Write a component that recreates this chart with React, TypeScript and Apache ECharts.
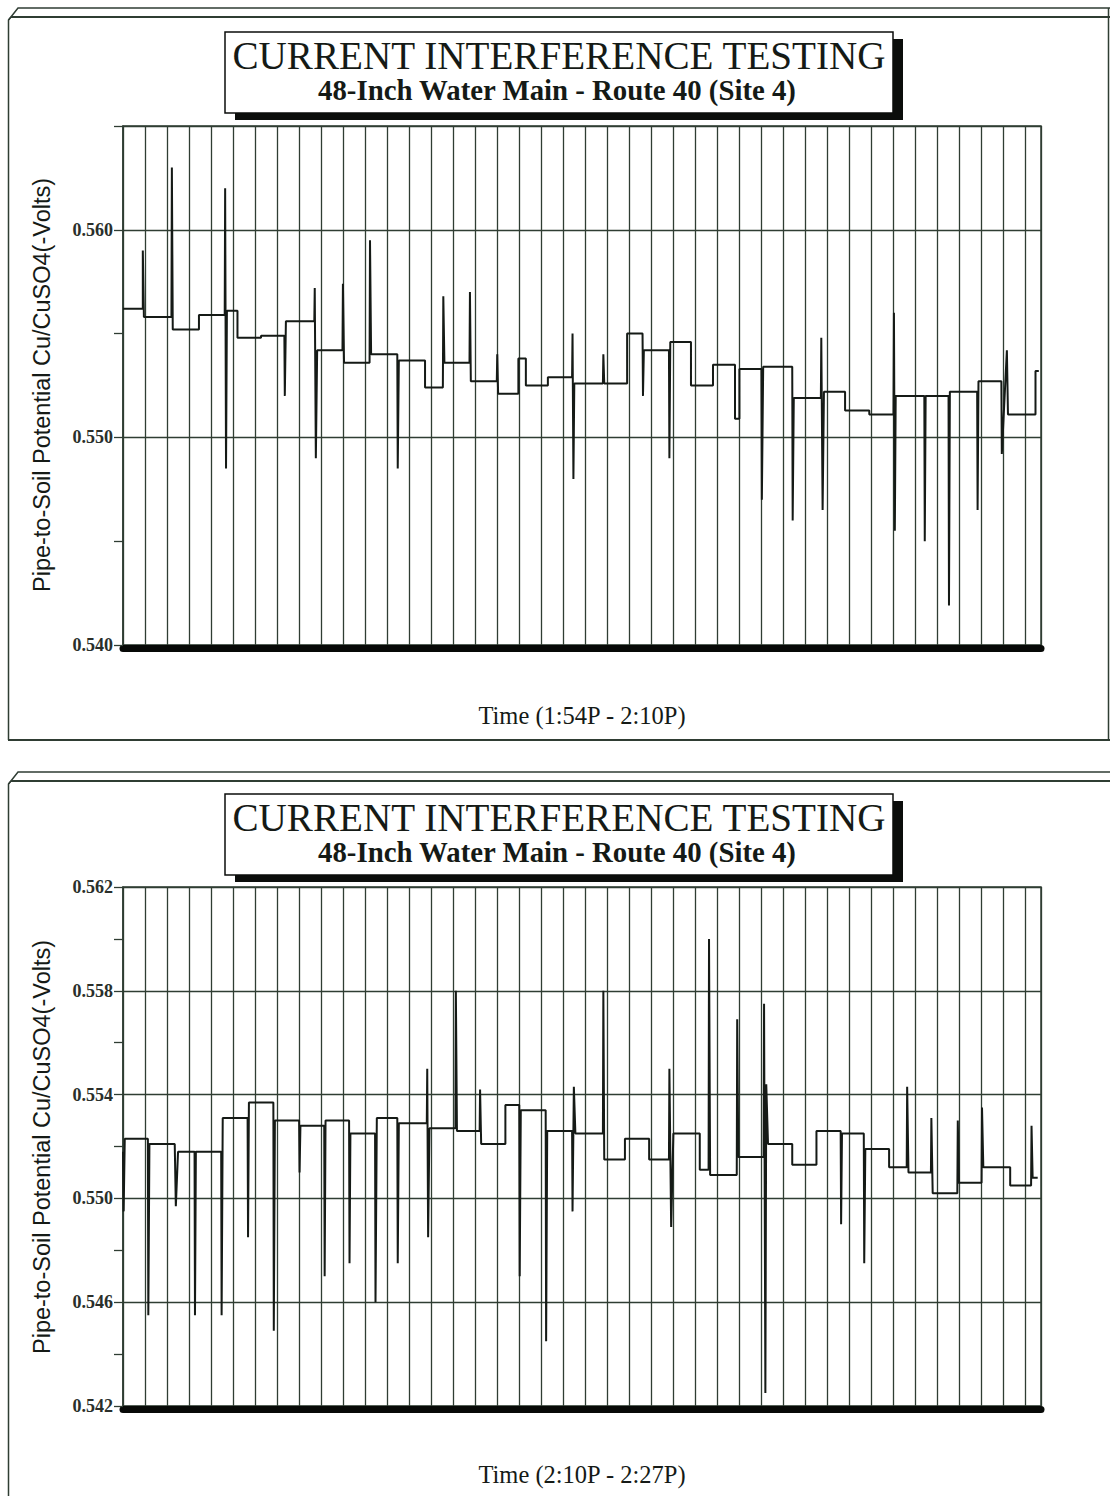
import React, { useEffect, useRef } from "react";
import * as echarts from "echarts";

// ---- Data (time in grid divisions, potential in -Volts) ----
const topTime = [
  0, 0.9, 0.9, 0.95, 2.2, 2.22, 2.26, 3.45, 3.45, 4.62, 4.64, 4.68, 4.72, 5.2, 5.2, 6.27, 6.27, 7.33, 7.35, 7.4,
  8.69, 8.71, 8.76, 8.82, 9.97, 9.99, 10.04, 11.2, 11.22, 11.27, 12.46, 12.48, 12.53, 13.72, 13.72, 14.53, 14.55, 14.6,
  15.74, 15.76, 15.8, 16.98, 17.0, 17.04, 17.96, 17.96, 18.3, 18.3, 19.3, 19.3, 20.4, 20.42, 20.46, 20.5, 21.8, 21.82,
  21.86, 22.9, 22.9, 23.6, 23.62, 23.66, 24.8, 24.82, 24.86, 25.8, 25.8, 26.8, 26.8, 27.8, 27.8, 28.0, 28.0, 29.0,
  29.02, 29.08, 30.4, 30.42, 30.47, 31.7, 31.72, 31.78, 31.84, 32.8, 32.8, 33.9, 33.9, 35.0, 35.02, 35.06, 35.1, 36.4,
  36.42, 36.46, 37.5, 37.52, 37.56, 38.8, 38.82, 38.86, 39.9, 39.92, 40.15, 40.2, 41.45, 41.45, 41.6,
];
const topVolts = [
  0.5562, 0.5562, 0.559, 0.5558, 0.5558, 0.563, 0.5552, 0.5552, 0.5559, 0.5559, 0.562, 0.5485, 0.5561, 0.5561, 0.5548,
  0.5548, 0.5549, 0.5549, 0.552, 0.5556, 0.5556, 0.5572, 0.549, 0.5542, 0.5542, 0.5574, 0.5536, 0.5536, 0.5595, 0.554,
  0.554, 0.5485, 0.5537, 0.5537, 0.5524, 0.5524, 0.5568, 0.5536, 0.5536, 0.557, 0.5527, 0.5527, 0.554, 0.5521, 0.5521,
  0.5538, 0.5538, 0.5525, 0.5525, 0.5529, 0.5529, 0.555, 0.548, 0.5526, 0.5526, 0.554, 0.5526, 0.5526, 0.555, 0.555,
  0.552, 0.5542, 0.5542, 0.549, 0.5546, 0.5546, 0.5525, 0.5525, 0.5535, 0.5535, 0.5509, 0.5509, 0.5533, 0.5533, 0.547,
  0.5534, 0.5534, 0.546, 0.5519, 0.5519, 0.5548, 0.5465, 0.5522, 0.5522, 0.5513, 0.5513, 0.5511, 0.5511, 0.556, 0.5455,
  0.552, 0.552, 0.545, 0.552, 0.552, 0.5419, 0.5522, 0.5522, 0.5465, 0.5527, 0.5527, 0.5492, 0.5542, 0.5511, 0.5511,
  0.5532, 0.5532,
];

const bottomTime = [
  0, 0.03, 0.08, 1.13, 1.15, 1.2, 2.35, 2.4, 2.5, 3.25, 3.27, 3.31, 4.46, 4.48, 4.53, 5.66, 5.68, 5.72, 6.83, 6.85, 6.9,
  8.0, 8.02, 8.06, 9.14, 9.16, 9.2, 10.27, 10.29, 10.33, 11.45, 11.47, 11.53, 12.46, 12.48, 12.53, 13.8, 13.82, 13.86,
  13.92, 15.1, 15.12, 15.17, 16.2, 16.22, 16.27, 17.37, 17.37, 18.0, 18.02, 18.07, 19.2, 19.22, 19.27, 20.4, 20.42,
  20.48, 20.55, 21.8, 21.82, 21.86, 22.8, 22.8, 23.9, 23.9, 24.8, 24.82, 24.9, 25.0, 26.2, 26.2, 26.6, 26.62, 26.67,
  27.88, 27.9, 27.95, 29.1, 29.12, 29.18, 29.22, 29.3, 30.4, 30.4, 31.5, 31.5, 32.6, 32.62, 32.66, 33.65, 33.67, 33.72,
  34.8, 34.8, 35.6, 35.62, 35.68, 36.7, 36.72, 36.78, 37.9, 37.92, 37.97, 39.0, 39.02, 39.08, 40.3, 40.3, 41.25, 41.27,
  41.32, 41.55,
];
const bottomVolts = [
  0.5518, 0.5495, 0.5523, 0.5523, 0.5455, 0.5521, 0.5521, 0.5497, 0.5518, 0.5518, 0.5455, 0.5518, 0.5518, 0.5455,
  0.5531, 0.5531, 0.5485, 0.5537, 0.5537, 0.5449, 0.553, 0.553, 0.551, 0.5528, 0.5528, 0.547, 0.553, 0.553, 0.5475,
  0.5525, 0.5525, 0.546, 0.5531, 0.5531, 0.5475, 0.5529, 0.5529, 0.555, 0.5485, 0.5527, 0.5527, 0.558, 0.5526, 0.5526,
  0.5542, 0.5521, 0.5521, 0.5536, 0.5536, 0.547, 0.5534, 0.5534, 0.5445, 0.5526, 0.5526, 0.5495, 0.5543, 0.5525,
  0.5525, 0.558, 0.5515, 0.5515, 0.5523, 0.5523, 0.5515, 0.5515, 0.555, 0.5489, 0.5525, 0.5525, 0.5511, 0.5511, 0.56,
  0.5509, 0.5509, 0.5569, 0.5516, 0.5516, 0.5575, 0.5425, 0.5544, 0.5521, 0.5521, 0.5513, 0.5513, 0.5526, 0.5526,
  0.549, 0.5525, 0.5525, 0.5475, 0.5519, 0.5519, 0.5512, 0.5512, 0.5543, 0.551, 0.551, 0.5531, 0.5502, 0.5502, 0.553,
  0.5506, 0.5506, 0.5535, 0.5512, 0.5512, 0.5505, 0.5505, 0.5528, 0.5508, 0.5508,
];

const TITLE = "CURRENT INTERFERENCE TESTING";
const SUBTITLE = "48-Inch Water Main - Route 40 (Site 4)";
const Y_NAME = "Pipe-to-Soil Potential Cu/CuSO4(-Volts)";
const X_NAMES = ["Time (1:54P - 2:10P)", "Time (2:10P - 2:27P)"];
const Y_RANGES = [
  { min: 0.54, max: 0.565, interval: 0.01 },
  { min: 0.542, max: 0.562, interval: 0.004 },
];
const X_MAX = 41.7;

const SERIF = "'Liberation Serif', 'Times New Roman', serif";
const SANS = "'Liberation Sans', Arial, sans-serif";
const GRID_COLOR = "#2f3d33";
const INK = "#151a16";

function zip(a: number[], b: number[]) {
  return a.map((t, i) => [t, b[i]]);
}

function panelGraphics(offsetY: number, idx: number) {
  const els: any[] = [];
  const line = (x1: number, y1: number, x2: number, y2: number, w = 1.5) => ({
    type: "line",
    shape: { x1, y1, x2, y2 },
    style: { stroke: GRID_COLOR, lineWidth: w },
    silent: true,
  });
  const top = idx === 0 ? 8 : 772;
  const top2 = idx === 0 ? 17 : 781;
  const bottom = idx === 0 ? 740 : 1500;
  els.push({
    type: "polyline",
    shape: { points: [[8.5, bottom], [8.5, top + 12], [18, top], [1110, top]] },
    style: { stroke: GRID_COLOR, lineWidth: 1.5, fill: null },
    silent: true,
  });
  els.push(line(11, top2, 1110, top2, 1.8));
  els.push(line(8.5, top + 12, 11, top2, 1.2));
  if (idx === 0) {
    els.push(line(8, bottom, 1110, bottom, 1.8));
    els.push(line(1108.5, top, 1108.5, bottom, 1.5));
  }
  // title box with drop shadow
  const bx = 225;
  const by = 32 + offsetY;
  const bw = 668;
  const bh = 81;
  els.push({ type: "rect", shape: { x: bx + 10, y: by + 7, width: bw, height: bh }, style: { fill: "#0b0d0b" }, silent: true });
  els.push({
    type: "rect",
    shape: { x: bx, y: by, width: bw, height: bh },
    style: { fill: "#ffffff", stroke: "#0b0d0b", lineWidth: 1.5 },
    silent: true,
  });
  const txt = (text: string, x: number, y: number, font: any, rotation = 0, scaleX = 1) => ({
    type: "text",
    x,
    y,
    rotation,
    scaleX,
    silent: true,
    style: {
      text,
      fill: INK,
      ...font,
      align: "center",
      verticalAlign: "middle",
      textAlign: "center",
      textVerticalAlign: "middle",
    },
  });
  els.push(txt(TITLE, 559, 55 + offsetY, { fontSize: 41, fontFamily: SERIF }, 0, 0.955));
  els.push(txt(SUBTITLE, 557, 90 + offsetY, { fontSize: 30, fontWeight: "bold", fontFamily: SERIF }, 0, 0.96));
  els.push(txt(Y_NAME, 42, 385 + offsetY, { fontSize: 23.5, fontFamily: SANS }, Math.PI / 2));
  els.push(txt(X_NAMES[idx], 582, 715 + (idx === 0 ? 0 : 759), { fontSize: 25, fontFamily: SERIF }, 0, 0.98));
  return els;
}

function makeYAxis(i: number) {
  const r = Y_RANGES[i];
  return {
    type: "value",
    gridIndex: i,
    min: r.min,
    max: r.max,
    interval: r.interval,
    scale: true,
    axisLine: { show: true, lineStyle: { color: GRID_COLOR, width: 1.5 } },
    axisTick: { show: true, length: 9, lineStyle: { color: GRID_COLOR, width: 1.3 } },
    minorTick: { show: true, splitNumber: 2, length: 9, lineStyle: { color: GRID_COLOR, width: 1.3 } },
    splitLine: { show: true, lineStyle: { color: GRID_COLOR, width: 1.3 } },
    axisLabel: {
      margin: 10,
      fontSize: 18,
      fontWeight: "bold",
      fontFamily: SERIF,
      color: "#2a2f2b",
      showMaxLabel: i === 1,
      formatter: (v: number) => v.toFixed(3),
    },
  };
}

function makeXAxis(i: number) {
  return {
    type: "value",
    gridIndex: i,
    min: 0,
    max: X_MAX,
    interval: 1,
    offset: 3,
    axisLine: { show: true, onZero: false, lineStyle: { color: "#070907", width: 7 } },
    axisTick: { show: false },
    axisLabel: { show: false },
    splitLine: { show: true, lineStyle: { color: GRID_COLOR, width: 1.3 } },
  };
}

export default function App() {
  const ref = useRef<HTMLDivElement>(null);
  useEffect(() => {
    if (!ref.current) return;
    const chart = echarts.init(ref.current, undefined, { renderer: "svg" });
    const option: any = {
      animation: false,
      backgroundColor: "#ffffff",
      grid: [
        { left: 123, top: 126, width: 918, height: 519, show: true, borderColor: GRID_COLOR, borderWidth: 1.5, backgroundColor: "transparent" },
        { left: 123, top: 887, width: 918, height: 519, show: true, borderColor: GRID_COLOR, borderWidth: 1.5, backgroundColor: "transparent" },
      ],
      xAxis: [makeXAxis(0), makeXAxis(1)],
      yAxis: [makeYAxis(0), makeYAxis(1)],
      series: [
        {
          type: "line",
          xAxisIndex: 0,
          yAxisIndex: 0,
          data: zip(topTime, topVolts),
          showSymbol: false,
          symbol: "none",
          lineStyle: { color: INK, width: 2 },
          z: 5,
        },
        {
          type: "line",
          xAxisIndex: 1,
          yAxisIndex: 1,
          data: zip(bottomTime, bottomVolts),
          showSymbol: false,
          symbol: "none",
          lineStyle: { color: INK, width: 2 },
          z: 5,
        },
      ],
      graphic: [...panelGraphics(0, 0), ...panelGraphics(762, 1)],
    };
    chart.setOption(option);
    return () => chart.dispose();
  }, []);
  return (
    <div
      ref={ref}
      style={{ position: "absolute", left: 0, top: 0, width: 1110, height: 1496, background: "#fff" }}
    />
  );
}
